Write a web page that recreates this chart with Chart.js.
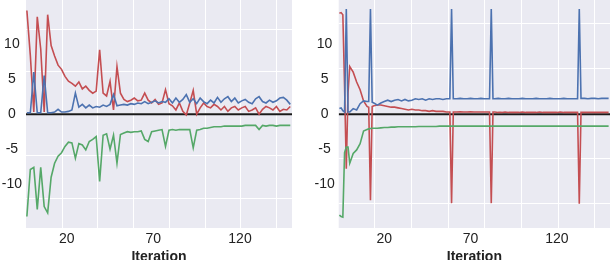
<!DOCTYPE html>
<html>
<head>
<meta charset="utf-8">
<script src="https://cdn.jsdelivr.net/npm/chart.js@4/dist/chart.umd.min.js"></script>
<style>
  html, body { margin: 0; padding: 0; background: #fff; overflow: hidden; }
  #wrap { position: relative; width: 614px; height: 260px; overflow: hidden; }
  .panel { position: absolute; top: 0; height: 268px; }
  #left-box { left: 0; width: 300px; }
  #right-box { left: 307px; width: 307px; }
</style>
</head>
<body>
<div id="wrap">
  <div class="panel" id="left-box"><canvas id="left-chart"></canvas></div>
  <div class="panel" id="right-box"><canvas id="right-chart"></canvas></div>
</div>
<script>
// tick labels
const xTicks = [20, 70, 120];
const yTicks = [-10, -5, 0, 5, 10];

// left panel
const iterL = [-3, -1, 1, 3, 5, 7, 9, 11, 13, 15, 17, 19, 21, 23, 25, 27, 29, 31, 33, 35, 37, 39, 41, 43, 45, 47, 49, 51, 53, 55,
  57, 59, 61, 63, 65, 67, 69, 71, 73, 75, 77, 79, 81, 83, 85, 87, 89, 91, 93, 95, 97, 99, 101, 103, 105, 107, 109, 111, 113, 115,
  117, 119, 121, 123, 125, 127, 129, 131, 133, 135, 137, 139, 141, 143, 145, 147, 149];
const redL = [14.8, 8.4, 0.3, 13.9, 9.3, 0.3, 14.2, 9.8, 8.3, 7.0, 6.4, 5.4, 4.7, 4.4, 4.0, 4.6, 3.6, 4.0, 3.4, 3.0,
  3.3, 9.2, 3.0, 2.6, 4.7, 0.6, 6.8, 3.0, 2.1, 1.8, 2.0, 2.3, 1.9, 2.0, 3.0, 2.0, 1.6, 2.1, 1.4, 1.6,
  3.5, 1.5, 1.2, 0.6, 1.6, 0.4, -0.1, 1.6, 3.4, 0.0, 0.9, 1.6, 1.1, 0.9, 1.4, 1.1, 0.6, 1.1, 0.4, 0.9,
  1.1, 0.6, 0.9, 1.1, 0.4, 0.6, 0.9, 0.0, 0.7, 1.1, 0.9, 0.6, 1.1, 0.4, 0.7, 0.6, 1.1];
const blueL = [0.2, 0.2, 6.0, 0.2, 0.2, 5.5, 0.2, 0.2, 0.3, 0.7, 0.3, 0.3, 0.4, 0.6, 3.0, 1.0, 1.4, 0.9, 1.3, 0.9,
  1.1, 1.0, 1.3, 1.1, 1.4, 2.8, 1.2, 1.3, 1.4, 1.3, 1.5, 1.4, 1.6, 1.5, 1.8, 1.5, 1.7, 1.9, 1.6, 1.8,
  1.7, 2.2, 1.6, 2.3, 1.7, 2.1, 2.8, 1.7, 2.2, 1.5, 2.3, 1.8, 1.5, 2.0, 1.6, 2.4, 1.7, 2.2, 2.5, 1.8,
  2.3, 1.6, 1.9, 2.1, 1.7, 1.5, 2.2, 2.5, 1.8, 1.6, 2.0, 1.7, 1.9, 2.3, 2.4, 2.0, 1.4];
const greenL = [-14.6, -7.9, -7.6, -13.6, -7.6, -13.2, -14.1, -9.0, -7.0, -6.0, -5.5, -4.6, -4.0, -4.1, -6.3, -4.2, -4.4, -5.1, -3.9, -3.6,
  -3.2, -9.6, -3.0, -2.8, -5.0, -3.0, -7.0, -2.9, -2.7, -2.5, -2.6, -2.5, -2.5, -2.4, -3.6, -3.9, -2.5, -2.4, -2.3, -2.2,
  -4.6, -2.3, -2.2, -2.3, -2.2, -2.2, -2.2, -2.2, -4.8, -2.3, -2.2, -2.0, -2.0, -1.9, -1.8, -1.8, -1.8, -1.7, -1.7, -1.7,
  -1.7, -1.7, -1.7, -1.6, -1.6, -1.6, -1.6, -2.2, -1.6, -1.7, -1.6, -1.6, -1.7, -1.6, -1.6, -1.6, -1.6];

// right panel
const iterR = [-6, -5, -4, -3, -2, -1, 0, 2, 4, 6, 8, 10, 11, 12, 13, 14, 16, 18, 20, 22, 24, 26, 28, 30, 32, 34, 36, 38, 40, 42,
  44, 46, 48, 50, 52, 54, 56, 58, 59, 60, 62, 64, 66, 68, 70, 72, 74, 76, 78, 80, 81, 82, 83, 84, 86, 88, 90, 92, 94, 96,
  98, 100, 102, 104, 106, 108, 110, 112, 114, 116, 118, 120, 122, 124, 126, 128, 130, 132, 133, 134, 136, 138, 140, 142, 144, 146,
  148, 150];
const redR = [14.4, 14.5, 14.2, 4.0, -7.8, 3.0, 6.8, 6.0, 4.6, 3.5, 1.9, 1.1, 1.0, -12.3, 1.1, 1.2, 1.3, 1.3, 1.2, 1.1,
  1.0, 1.0, 0.9, 0.8, 0.7, 0.6, 0.7, 0.6, 0.6, 0.5, 0.5, 0.4, 0.5, 0.4, 0.4, 0.4, 0.3, 0.3, -12.7, 0.3,
  0.3, 0.35, 0.3, 0.3, 0.35, 0.3, 0.3, 0.3, 0.3, 0.3, 0.3, -12.7, 0.3, 0.3, 0.25, 0.25, 0.3, 0.25, 0.25, 0.25,
  0.25, 0.3, 0.25, 0.25, 0.25, 0.25, 0.3, 0.25, 0.25, 0.25, 0.25, 0.25, 0.3, 0.25, 0.25, 0.25, 0.25, 0.25, -12.8, 0.25,
  0.25, 0.25, 0.25, 0.25, 0.25, 0.25, 0.25, 0.25];
const blueR = [0.8, 0.9, 0.5, 0.3, 15.0, 0.3, 0.3, 0.8, 0.6, 1.5, 1.9, 1.8, 1.8, 15.0, 1.7, 1.6, 1.3, 1.6, 1.8, 2.0,
  1.8, 2.0, 2.1, 1.9, 2.1, 1.9, 2.0, 2.2, 2.1, 2.2, 2.0, 2.2, 2.1, 2.2, 2.2, 2.1, 2.2, 2.2, 15.0, 2.2,
  2.2, 2.25, 2.2, 2.2, 2.25, 2.2, 2.2, 2.25, 2.2, 2.2, 2.2, 15.0, 2.2, 2.2, 2.25, 2.2, 2.2, 2.25, 2.2, 2.2,
  2.2, 2.25, 2.2, 2.2, 2.2, 2.25, 2.2, 2.2, 2.2, 2.25, 2.2, 2.2, 2.2, 2.25, 2.2, 2.2, 2.2, 2.2, 15.0, 2.25,
  2.25, 2.2, 2.25, 2.25, 2.2, 2.25, 2.25, 2.25];
const greenR = [-14.4, -14.6, -14.7, -5.5, -4.7, -4.7, -7.0, -5.6, -5.1, -4.2, -2.4, -2.2, -2.1, -2.05, -2.0, -2.0, -2.0, -1.95, -1.9, -1.9,
  -1.85, -1.85, -1.8, -1.8, -1.8, -1.8, -1.8, -1.8, -1.75, -1.75, -1.75, -1.75, -1.75, -1.75, -1.7, -1.7, -1.7, -1.7, -1.7, -1.7,
  -1.7, -1.7, -1.7, -1.7, -1.7, -1.7, -1.7, -1.7, -1.7, -1.7, -1.7, -1.7, -1.7, -1.7, -1.7, -1.7, -1.7, -1.7, -1.7, -1.7,
  -1.7, -1.7, -1.7, -1.7, -1.7, -1.7, -1.7, -1.7, -1.7, -1.7, -1.7, -1.7, -1.7, -1.7, -1.7, -1.7, -1.7, -1.7, -1.7, -1.7,
  -1.7, -1.7, -1.7, -1.7, -1.7, -1.7, -1.7, -1.7];

// white grid lines (they don't sit on the tick labels in the original)
const gridXL = [17.7, 37.9, 58.5, 79.1, 99.8, 120.4, 141.0];
const gridYL = [12.1, 6.1, 0.1, -5.9, -12.0];
const gridXR = [14.6, 35.9, 57.1, 78.3, 99.6, 120.8, 142.0];
const gridYR = [12.9, 6.5, 0.1, -6.3, -12.7];

const textColor = '#222';
const fontFamily = '"Liberation Sans", Arial, sans-serif';

const plotBackground = {
  id: 'plotBackground',
  beforeDraw(chart) {
    const { ctx, chartArea } = chart;
    ctx.save();
    ctx.fillStyle = '#EAEAF2';
    ctx.fillRect(chartArea.left, chartArea.top, chartArea.width, chartArea.height);
    ctx.restore();
  }
};

function toPoints(iters, values) {
  return iters.map((x, i) => ({ x: x, y: values[i] }));
}

function setTicks(values) {
  return axis => { axis.ticks = values.map(v => ({ value: v })); };
}

function makeChart(canvasId, panel) {
  const lineStyle = { pointRadius: 0, borderWidth: 1.6, tension: 0, fill: false };

  return new Chart(document.getElementById(canvasId), {
    type: 'line',
    data: {
      datasets: [
        { ...lineStyle, data: toPoints(panel.iters, panel.blue), borderColor: '#4C72B0' },
        { ...lineStyle, data: toPoints(panel.iters, panel.green), borderColor: '#55A868' },
        { ...lineStyle, data: toPoints(panel.iters, panel.red), borderColor: '#C44E52' },
        { ...lineStyle, data: [{ x: panel.xMin, y: 0 }, { x: panel.xMax, y: 0 }], borderColor: '#1a1a1a', borderWidth: 2 }
      ]
    },
    options: {
      responsive: true,
      maintainAspectRatio: false,
      animation: false,
      layout: { padding: { left: 0, top: 0, bottom: 0, right: panel.padRight } },
      plugins: { legend: { display: false }, tooltip: { enabled: false } },
      scales: {
        x: {
          type: 'linear',
          min: panel.xMin,
          max: panel.xMax,
          afterBuildTicks: setTicks(xTicks),
          grid: { display: false, drawTicks: false },
          border: { display: false },
          ticks: { color: textColor, font: { family: fontFamily, size: 14 }, padding: 3, autoSkip: false, maxRotation: 0 },
          title: {
            display: true,
            text: 'Iteration',
            color: textColor,
            font: { family: fontFamily, size: 14, weight: 'bold' },
            padding: { top: 0, bottom: 2 }
          },
          afterFit: axis => { axis.height = 40; }
        },
        y: {
          type: 'linear',
          min: -16.25,
          max: 16.3,
          afterBuildTicks: setTicks(yTicks),
          grid: { display: false, drawTicks: false },
          border: { display: false },
          ticks: { color: textColor, font: { family: fontFamily, size: 14 }, padding: 4, crossAlign: 'center' },
          afterFit: axis => {
            axis.width = panel.yWidth;
            axis.paddingTop = 0;
            axis.paddingBottom = 0;
          }
        },
        xg: {
          type: 'linear',
          position: 'top',
          min: panel.xMin,
          max: panel.xMax,
          afterBuildTicks: setTicks(panel.gridX),
          ticks: { display: false },
          grid: { color: '#ffffff', lineWidth: 1, drawTicks: false },
          border: { display: false },
          afterFit: axis => { axis.height = 0; }
        },
        yg: {
          type: 'linear',
          position: 'right',
          min: -16.25,
          max: 16.3,
          afterBuildTicks: setTicks(panel.gridY),
          ticks: { display: false },
          grid: { color: '#ffffff', lineWidth: 1, drawTicks: false },
          border: { display: false },
          afterFit: axis => { axis.width = 0; }
        }
      }
    },
    plugins: [plotBackground]
  });
}

makeChart('left-chart', {
  iters: iterL, red: redL, blue: blueL, green: greenL,
  xMin: -3.5, xMax: 150, gridX: gridXL, gridY: gridYL, yWidth: 26, padRight: 8
});

makeChart('right-chart', {
  iters: iterR, red: redR, blue: blueR, green: greenR,
  xMin: -6.4, xMax: 150.8, gridX: gridXR, gridY: gridYR, yWidth: 31.7, padRight: 4
});
</script>
</body>
</html>
